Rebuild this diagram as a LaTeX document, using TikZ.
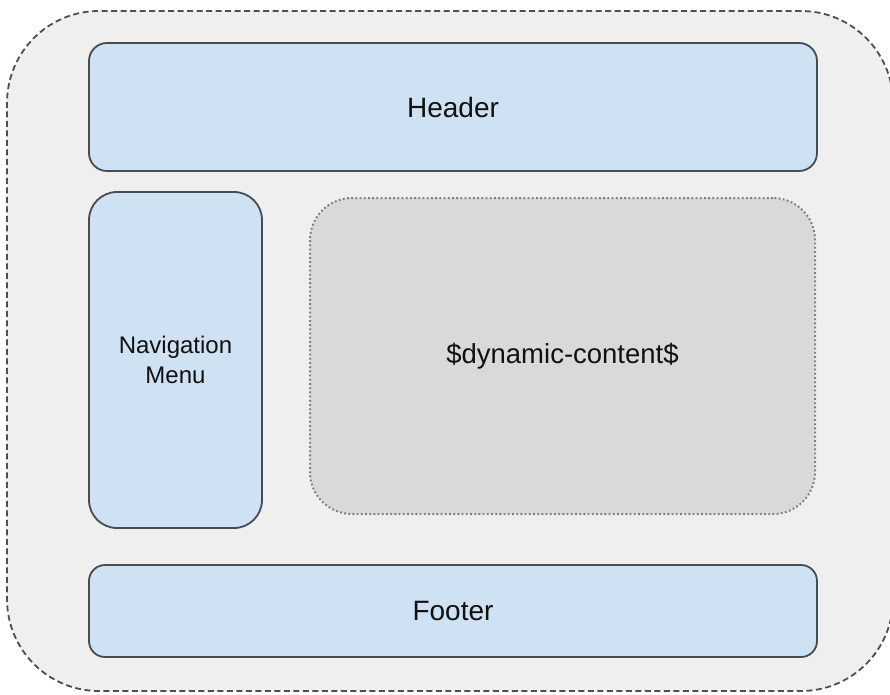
\documentclass[tikz,border=0pt]{standalone}
\usepackage{fontspec}
\setmainfont{Liberation Sans}
\definecolor{bgcol}{HTML}{EFEFEF}
\definecolor{bluefill}{HTML}{CFE2F3}
\definecolor{grayfill}{HTML}{D9D9D9}
\definecolor{edgecol}{HTML}{474C52}
\definecolor{outercol}{HTML}{4F4F4F}
\definecolor{dotcol}{HTML}{7F7F7F}
\definecolor{txtcol}{HTML}{111111}
\tikzset{
  outerbox/.style={draw=outercol, fill=bgcol, line width=1.8pt, dash pattern=on 6pt off 3.5pt, rounded corners=92pt, inner sep=0pt},
  bluebox/.style={draw=edgecol, fill=bluefill, line width=1.8pt, inner sep=0pt, text=txtcol},
  contentbox/.style={draw=dotcol, fill=grayfill, line width=2pt, dash pattern=on 1.8pt off 2.4pt, rounded corners=42pt, inner sep=0pt, text=txtcol},
}
\begin{document}
\begin{tikzpicture}[x=1pt,y=-1pt]
\clip (0,0) rectangle (890,694);
\useasboundingbox (0,0) rectangle (890,694);
\node[outerbox, minimum width=886pt, minimum height=680pt] (outer) at (450,351) {};
\node[bluebox, rounded corners=18pt, minimum width=728pt, minimum height=128pt, font=\fontsize{28}{34}\selectfont] (header) at (453,107) {Header};
\node[bluebox, rounded corners=28pt, minimum width=173pt, minimum height=336pt, align=center, font=\fontsize{24}{30}\selectfont] (nav) at (175.5,360) {Navigation\\Menu};
\node[contentbox, minimum width=505pt, minimum height=316pt, font=\fontsize{27.5}{32}\selectfont] (content) at (562.5,356) {\$dynamic-content\$};
\node[bluebox, rounded corners=16pt, minimum width=728pt, minimum height=92pt, font=\fontsize{28}{34}\selectfont] (footer) at (453,611) {Footer};
\end{tikzpicture}
\end{document}
